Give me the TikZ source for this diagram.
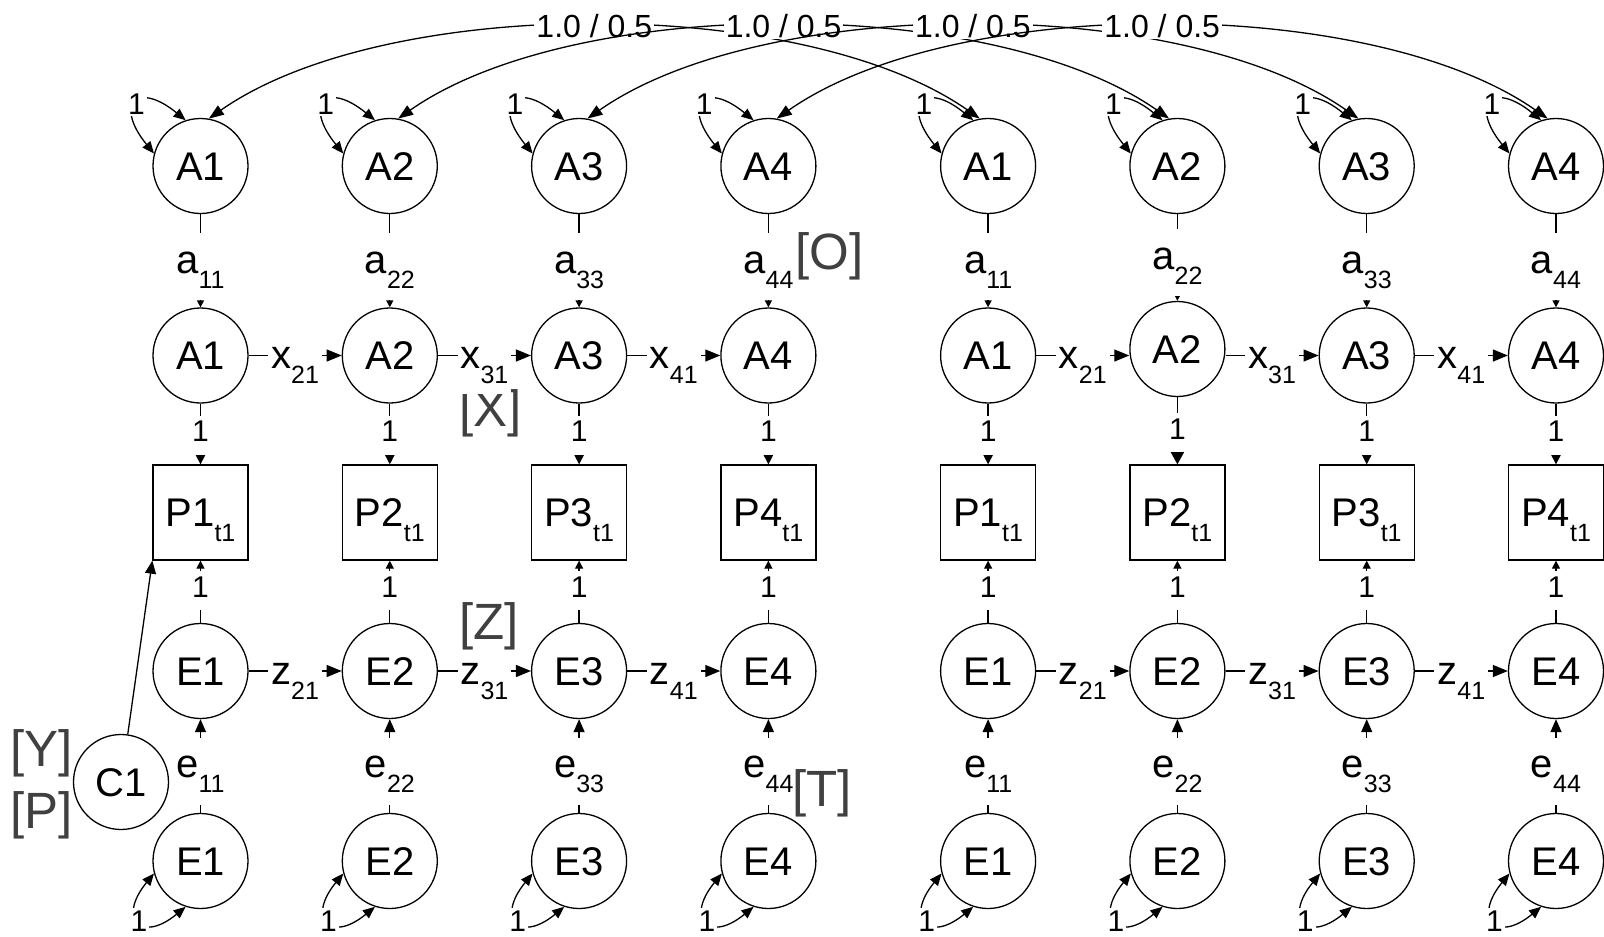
\documentclass[tikz,border=0pt]{standalone}
\usepackage{fontspec}
\setmainfont{Liberation Sans}
\usetikzlibrary{arrows.meta,calc}
\definecolor{tagcol}{RGB}{64,64,64}
\newcommand{\sbs}[1]{\raisebox{-15pt}{\fontsize{25}{25}\selectfont #1}}
\newcommand{\nodefont}{\fontsize{40}{48}\selectfont}
\newcommand{\numfont}{\fontsize{30}{36}\selectfont}
\newcommand{\covfont}{\fontsize{32}{38}\selectfont}
\newcommand{\tagfont}{\fontsize{51}{60}\selectfont}
% variance loops above / below a node
\newcommand{\toploop}[1]{\draw[vloop] (#1.165) .. controls ($(#1.165)+(-40,-49)$) and ($(#1.108)+(-49,-40)$) .. (#1.108) node[varlab,pos=0.5] {1};}
\newcommand{\botloop}[1]{\draw[vloop] (#1.195) .. controls ($(#1.195)+(-37,45)$) and ($(#1.252)+(-45,37)$) .. (#1.252) node[varlab,pos=0.5] {1};}
\begin{document}
\begin{tikzpicture}[x=1pt, y=-1pt, line width=1.3pt,
  lat/.style={circle, draw, minimum size=95pt, inner sep=0pt, font=\nodefont, text height=28.6pt, text depth=0pt},
  obs/.style={rectangle, draw, minimum size=95pt, inner sep=0pt, font=\nodefont, text height=28.6pt, text depth=0pt},
  lab/.style={fill=white, inner sep=3pt, font=\nodefont},
  vlab/.style={lab, anchor=base, text height=37pt, text depth=24pt},
  hlab/.style={lab, anchor=base, yshift=-13pt, text height=28pt, text depth=22pt},
  onelab/.style={fill=white, inner sep=3pt, font=\numfont, anchor=base, text height=23pt, text depth=10pt},
  varlab/.style={fill=white, inner sep=2pt, font=\numfont, text height=21.5pt, text depth=0pt},
  covlab/.style={fill=white, inner sep=2pt, font=\covfont, text height=23pt, text depth=0pt},
  tag/.style={inner sep=0pt, font=\tagfont, text=tagcol, anchor=base west},
  arrBig/.style={-{Triangle[length=15pt,width=12pt]}},
  arrMid/.style={-{Triangle[length=10pt,width=10pt]}},
  arrMidL/.style={-{Triangle[length=13pt,width=14pt]}},
  arrSmall/.style={-{Triangle[length=8pt,width=8pt]}},
  arrTiny/.style={-{Triangle[length=7pt,width=7pt]}},
  arrE/.style={-{Triangle[length=13pt,width=11pt]}},
  vloop/.style={{Triangle[length=12pt,width=10pt]}-{Triangle[length=12pt,width=10pt]}},
  cov/.style={{Triangle[length=15pt,width=11pt]}-{Triangle[length=15pt,width=11pt]}}]

\fill[white] (0,0) rectangle (1604,937);
\useasboundingbox (0,0) rectangle (1604,937);

% tag partly covered by the x31 label
\node[tag] (tagX) at (459,426) {[X]};

% nodes of both halves
\foreach \s/\o/\sh in {L/0/0, R/787.6/1} {
  \foreach \i in {1,...,4} {
    \pgfmathsetmacro{\cx}{\o+200.5+189.3*(\i-1)}
    \pgfmathsetmacro{\my}{355.5-6.5*\sh*(\i==2)}
    \node[lat] (TA\i\s) at (\cx,166) {A\i};
    \node[lat] (MA\i\s) at (\cx,\my) {A\i};
    \node[obs] (P\i\s) at (\cx,512.5) {P\i\sbs{t1}};
    \node[lat] (E\i\s) at (\cx,671) {E\i};
    \node[lat] (BE\i\s) at (\cx,861) {E\i};
  }
}
\node[lat] (C1) at (121,782) {C1};
\coordinate (rowA) at (0,355.5);

% paths within each half
\foreach \s in {L,R} {
  \foreach \i in {1,...,4} {
    \draw[arrTiny] (TA\i\s) -- node[vlab,pos=0.633] {a\sbs{\i\i}} (MA\i\s);
    \draw[arrSmall] (E\i\s) -- node[onelab,pos=0.41] {1} (P\i\s);
    \draw[arrE] (BE\i\s) -- node[vlab,pos=0.374] {e\sbs{\i\i}} (E\i\s);
  }
  \foreach \i/\j in {1/2,2/3,3/4} {
    \draw[arrBig] (MA\i\s.east |- rowA) -- node[hlab] {x\sbs{\j1}} (MA\j\s.west |- rowA);
    \draw[arrBig] (E\i\s) -- node[hlab] {z\sbs{\j1}} (E\j\s);
  }
}
\foreach \i/\st in {1L/arrMid,2L/arrMid,3L/arrMid,4L/arrMid,1R/arrMid,2R/arrMidL,3R/arrMid,4R/arrMid} {
  \draw[\st] (MA\i) -- node[onelab,pos=0.63] {1} (P\i);
}
\draw[arrE] (C1) -- (P1L.south west);

% covariances between the two halves
\foreach \i in {1,...,4} {
  \draw[cov] (TA\i L.80) .. controls ($(TA\i L.80)+(177,-124)$) and ($(TA\i R.100)+(-177,-124)$) .. (TA\i R.100) node[covlab,pos=0.5] {1.0 / 0.5};
}

% variances
\foreach \s in {L,R} {
  \foreach \i in {1,...,4} {
    \toploop{TA\i\s}
    \botloop{BE\i\s}
  }
}

% tags
\node[tag] (tagO) at (795,269) {[O]};
\node[tag] (tagZ) at (459,639) {[Z]};
\node[tag] (tagT) at (792,806) {[T]};
\node[tag] (tagY) at (10,766) {[Y]};
\node[tag] (tagP) at (10,828) {[P]};
\end{tikzpicture}
\end{document}
